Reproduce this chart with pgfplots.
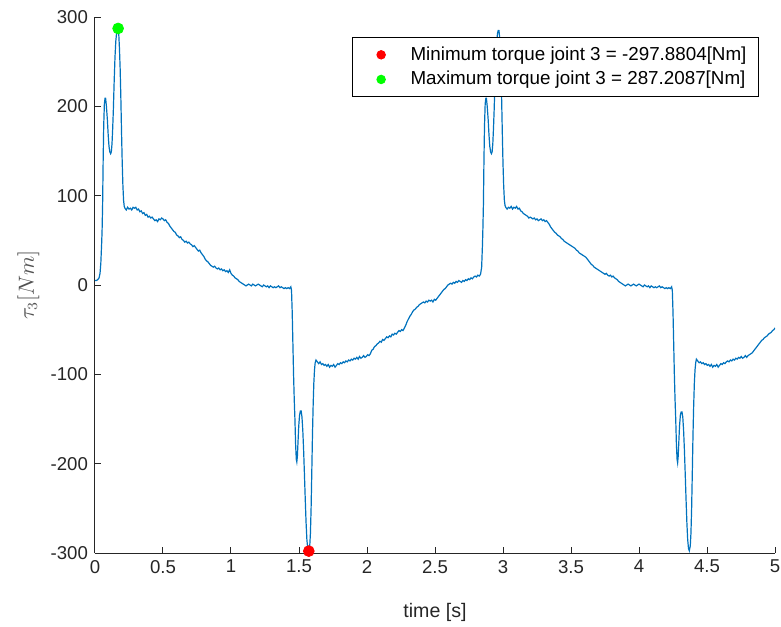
\documentclass[border=0pt]{standalone}
\usepackage{fontspec}
\setmainfont{Liberation Sans}
\usepackage{pgfplots}
\pgfplotsset{compat=1.18}
\definecolor{mlblue}{HTML}{0072BD}
\definecolor{axgray}{HTML}{262626}
\begin{document}
\begin{tikzpicture}
\useasboundingbox (-47.5pt,-36.5pt) rectangle (343pt,276.5pt);
\begin{axis}[
  at={(0pt,0pt)}, anchor=south west,
  scale only axis, width=340pt, height=268pt,
  xmin=0, xmax=5, ymin=-300, ymax=300,
  axis lines*=left,
  axis line style={axgray, line width=0.5pt},
  tick align=inside, major tick length=3pt,
  tick style={axgray, line width=0.5pt},
  xtick={0,0.5,...,5}, ytick={-300,-200,...,300},
  xticklabels={0,0.5,1,1.5,2,2.5,3,3.5,4,4.5,5},
  /pgf/number format/assume math mode=true,
  ticklabel style={font=\fontsize{9.3}{11}\selectfont, text=axgray},
  xlabel={time [s]}, ylabel={$\tau_3[Nm]$},
  xlabel style={font=\fontsize{9.8}{11}\selectfont, text=axgray, at={(axis description cs:0.5,-0.11)}, anchor=center},
  ylabel style={font=\fontsize{10.5}{12}\selectfont, text=axgray!80, at={(axis description cs:-0.098,0.5)}, anchor=center},
  legend style={at={(axis description cs:1,1)}, anchor=north east, xshift=-8pt, yshift=-10pt,
    draw=black, line width=0.5pt, fill=white, font=\fontsize{9.4}{11}\selectfont,
    inner xsep=4pt, inner ysep=2.5pt, row sep=0pt, column sep=0pt},
  legend cell align=left,
  legend image code/.code={\path[draw=none, fill=none] (0pt,0pt) -- (23.2pt,0pt); \path[#1, draw=none, mark size=2.1pt, mark options={draw=none}] plot[only marks] coordinates {(10.5pt,0pt)};},
]
\addplot[mlblue, line width=0.6pt, forget plot] coordinates {
(0.000,5) (0.010,5) (0.020,6) (0.030,8) (0.037,13) (0.043,25) (0.049,47) (0.052,60) (0.056,90) (0.060,140) (0.064,178) (0.069,203) (0.074,209) (0.078,209) (0.084,200) (0.091,185) (0.097,168) (0.103,155) (0.109,149) (0.115,147) (0.120,149) (0.125,158) (0.130,175) (0.135,196) (0.141,228) (0.147,255) (0.153,273) (0.160,284) (0.165,287) (0.170,287.2087) (0.175,280) (0.180,264) (0.185,242) (0.190,210) (0.195,172) (0.200,138) (0.205,112) (0.210,95) (0.215,88) (0.220,86)
(0.230,84) (0.240,87) (0.250,85) (0.260,86) (0.270,84) (0.280,87) (0.290,86) (0.300,87) (0.310,84) (0.320,85) (0.330,82) (0.340,83) (0.350,80) (0.360,81) (0.370,78) (0.380,79) (0.390,76) (0.400,77) (0.410,75) (0.420,76) (0.430,74) (0.440,72) (0.450,73) (0.460,71) (0.470,74) (0.480,73) (0.490,75) (0.500,74) (0.510,72) (0.520,73) (0.530,70) (0.540,69) (0.550,66) (0.560,64) (0.570,62) (0.580,60) (0.590,59) (0.600,56) (0.610,55) (0.620,53) (0.630,54) (0.640,51) (0.650,50) (0.660,48) (0.670,49) (0.680,47) (0.690,48) (0.700,46) (0.710,45) (0.720,43) (0.730,44) (0.740,42) (0.750,40) (0.760,38) (0.770,39) (0.780,36) (0.790,34) (0.800,32) (0.810,29) (0.820,27) (0.830,26) (0.840,24) (0.850,22) (0.860,21) (0.870,20) (0.880,21) (0.890,19) (0.900,18) (0.910,19) (0.920,17) (0.930,18) (0.940,16) (0.950,17) (0.960,15) (0.970,16) (0.980,14) (0.990,17) (1.000,13) (1.010,11) (1.020,10) (1.030,8) (1.040,7) (1.050,6) (1.060,4) (1.070,3) (1.080,2) (1.090,1) (1.100,0) (1.110,-1) (1.120,0) (1.130,1) (1.140,0) (1.150,-1) (1.160,1) (1.170,0) (1.180,-1) (1.190,0) (1.200,1) (1.210,0) (1.220,-1) (1.230,-2) (1.240,0) (1.250,-1) (1.260,-2) (1.270,-1) (1.280,-3) (1.290,-1) (1.300,-2) (1.310,-3) (1.320,-2) (1.330,-3) (1.340,-2) (1.350,-1) (1.360,-3) (1.370,-2) (1.380,-3) (1.390,-4) (1.400,-3) (1.410,-4) (1.420,-3) (1.430,-4) (1.440,-2)
(1.445,-6) (1.450,-30) (1.455,-65) (1.460,-100) (1.465,-128) (1.470,-150) (1.475,-178) (1.480,-195) (1.484,-198) (1.488,-192) (1.493,-175) (1.498,-158) (1.504,-146) (1.510,-141) (1.516,-141) (1.522,-148) (1.528,-163) (1.534,-185) (1.540,-212) (1.546,-240) (1.552,-266) (1.558,-285) (1.564,-295) (1.572,-297.8804) (1.579,-292) (1.584,-278) (1.589,-250) (1.594,-210) (1.599,-168) (1.604,-135) (1.609,-110) (1.614,-95) (1.619,-87) (1.625,-84)
(1.635,-86) (1.645,-88) (1.655,-86) (1.665,-89) (1.675,-88) (1.685,-90) (1.695,-89) (1.705,-91) (1.715,-89) (1.725,-92) (1.735,-90) (1.745,-91) (1.755,-89) (1.765,-92) (1.775,-90) (1.785,-88) (1.795,-89) (1.805,-87) (1.815,-88) (1.825,-86) (1.835,-87) (1.845,-85) (1.855,-86) (1.865,-84) (1.875,-85) (1.885,-83) (1.895,-84) (1.905,-82) (1.915,-83) (1.925,-81) (1.935,-83) (1.945,-80) (1.955,-82) (1.965,-81) (1.975,-79) (1.985,-81) (1.995,-80) (2.005,-78) (2.015,-79) (2.025,-77) (2.035,-73) (2.045,-72) (2.055,-69) (2.065,-68) (2.075,-66) (2.085,-65) (2.095,-63) (2.105,-64) (2.115,-61) (2.125,-62) (2.135,-60) (2.145,-58) (2.155,-59) (2.165,-57) (2.175,-58) (2.185,-55) (2.195,-56) (2.205,-54) (2.215,-55) (2.225,-53) (2.235,-51) (2.245,-52) (2.255,-50) (2.265,-51) (2.275,-48) (2.285,-45) (2.295,-41) (2.305,-38) (2.315,-35) (2.325,-33) (2.335,-30) (2.345,-28) (2.355,-27) (2.365,-25) (2.375,-24) (2.385,-22) (2.395,-21) (2.405,-20) (2.415,-19) (2.425,-20) (2.435,-18) (2.445,-19) (2.455,-17) (2.465,-18) (2.475,-17) (2.485,-19) (2.495,-16) (2.505,-17) (2.515,-15) (2.525,-13) (2.535,-11) (2.545,-9) (2.555,-7) (2.565,-5) (2.575,-4) (2.585,-2) (2.595,0) (2.605,1) (2.615,2) (2.625,1) (2.635,3) (2.645,2) (2.655,4) (2.665,3) (2.675,5) (2.685,4) (2.695,3) (2.705,5) (2.715,4) (2.725,6) (2.735,5) (2.745,7) (2.755,6) (2.765,8) (2.775,7) (2.785,9) (2.795,10) (2.805,9) (2.815,11) (2.825,10) (2.835,12)
(2.843,20) (2.849,45) (2.852,62) (2.856,90) (2.860,140) (2.864,178) (2.869,203) (2.874,209) (2.878,209) (2.884,200) (2.891,185) (2.897,168) (2.903,155) (2.909,149) (2.915,147) (2.920,149) (2.925,158) (2.930,175) (2.935,196) (2.941,228) (2.947,255) (2.953,272) (2.960,282) (2.965,285) (2.970,285) (2.975,278) (2.980,262) (2.985,240) (2.990,208) (2.995,170) (3.000,136) (3.005,111) (3.010,95) (3.015,89) (3.020,87)
(3.030,85) (3.040,87) (3.050,86) (3.060,88) (3.070,85) (3.080,87) (3.090,86) (3.100,88) (3.110,85) (3.120,86) (3.130,83) (3.140,82) (3.150,80) (3.160,79) (3.170,78) (3.180,77) (3.190,75) (3.200,76) (3.210,75) (3.220,74) (3.230,75) (3.240,73) (3.250,74) (3.260,72) (3.270,73) (3.280,74) (3.290,72) (3.300,73) (3.310,71) (3.320,72) (3.330,70) (3.340,68) (3.350,65) (3.360,63) (3.370,61) (3.380,59) (3.390,58) (3.400,56) (3.410,55) (3.420,54) (3.430,52) (3.440,51) (3.450,49) (3.460,48) (3.470,47) (3.480,46) (3.490,45) (3.500,44) (3.510,43) (3.520,42) (3.530,41) (3.540,39) (3.550,38) (3.560,36) (3.570,35) (3.580,34) (3.590,33) (3.600,32) (3.610,31) (3.620,29) (3.630,27) (3.640,25) (3.650,23) (3.660,22) (3.670,20) (3.680,19) (3.690,18) (3.700,17) (3.710,16) (3.720,15) (3.730,14) (3.740,13) (3.750,12) (3.760,13) (3.770,11) (3.780,10) (3.790,11) (3.800,9) (3.810,10) (3.820,8) (3.830,7) (3.840,6) (3.850,4) (3.860,3) (3.870,2) (3.880,1) (3.890,0) (3.900,-1) (3.910,0) (3.920,1) (3.930,0) (3.940,-1) (3.950,0) (3.960,1) (3.970,0) (3.980,-1) (3.990,0) (4.000,1) (4.010,0) (4.020,-1) (4.030,-2) (4.040,0) (4.050,-1) (4.060,-2) (4.070,-1) (4.080,-3) (4.090,-1) (4.100,-2) (4.110,-3) (4.120,-2) (4.130,-3) (4.140,-2) (4.150,-1) (4.160,-3) (4.170,-2) (4.180,-3) (4.190,-4) (4.200,-3) (4.210,-4) (4.220,-3) (4.230,-4) (4.240,-2)
(4.245,-6) (4.250,-30) (4.255,-65) (4.260,-100) (4.265,-128) (4.270,-150) (4.275,-178) (4.280,-195) (4.284,-199) (4.288,-192) (4.293,-175) (4.298,-158) (4.304,-146) (4.310,-142) (4.316,-142) (4.322,-148) (4.328,-163) (4.334,-185) (4.340,-212) (4.346,-240) (4.352,-266) (4.358,-285) (4.364,-295) (4.370,-297.5) (4.377,-292) (4.382,-278) (4.387,-250) (4.392,-210) (4.397,-168) (4.402,-135) (4.407,-110) (4.412,-95) (4.417,-87) (4.422,-83)
(4.432,-85) (4.442,-87) (4.452,-86) (4.462,-88) (4.472,-87) (4.482,-89) (4.492,-88) (4.502,-90) (4.512,-89) (4.522,-91) (4.532,-89) (4.542,-92) (4.552,-90) (4.562,-91) (4.572,-89) (4.582,-92) (4.592,-90) (4.602,-88) (4.612,-89) (4.622,-87) (4.632,-88) (4.642,-86) (4.652,-85) (4.662,-86) (4.672,-84) (4.682,-85) (4.692,-83) (4.702,-84) (4.712,-82) (4.722,-83) (4.732,-81) (4.742,-82) (4.752,-80) (4.762,-82) (4.772,-81) (4.782,-79) (4.792,-81) (4.802,-79) (4.812,-78) (4.822,-77) (4.832,-76) (4.842,-74) (4.852,-72) (4.862,-70) (4.872,-68) (4.882,-66) (4.892,-64) (4.902,-62) (4.912,-61) (4.922,-59) (4.932,-58) (4.942,-57) (4.952,-55) (4.962,-54) (4.972,-53) (4.982,-51) (4.992,-50) (5.000,-48)
};
\addplot[only marks, mark=*, mark size=2.7pt, color=red] coordinates {(1.572,-297.8804)};
\addlegendentry{Minimum torque joint 3 = -297.8804[Nm]}
\addplot[only marks, mark=*, mark size=2.7pt, color=green] coordinates {(0.170,287.2087)};
\addlegendentry{Maximum torque joint 3 = 287.2087[Nm]}
\end{axis}
\end{tikzpicture}
\end{document}
